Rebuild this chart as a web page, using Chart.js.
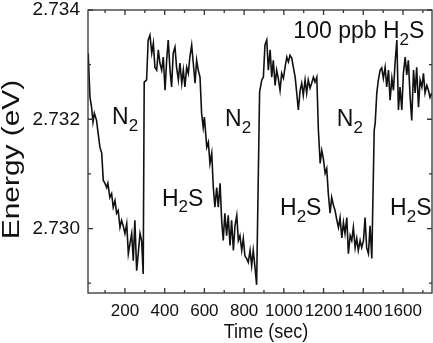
<!DOCTYPE html>
<html>
<head>
<meta charset="utf-8">
<script src="https://cdn.jsdelivr.net/npm/chart.js@4.4.0/dist/chart.umd.min.js"></script>
<style>
  html, body { margin: 0; padding: 0; background: #fff; }
  #chart { display: block; }
</style>
</head>
<body>
<canvas id="chart" width="433" height="343"></canvas>
<script>
// Sensor response to alternating N2 / 100 ppb H2S exposure
const times = [
  15, 24, 32, 39, 46, 57, 65, 74, 83, 91, 99, 108, 114, 124, 133, 141, 150, 158, 166, 175,
  183, 191, 200, 209, 217, 225, 234, 242, 250, 259, 267, 276, 284, 292, 297, 309, 317, 326, 335, 343,
  351, 360, 368, 376, 385, 393, 402, 410, 418, 427, 435, 443, 452, 460, 469, 477, 486, 494, 502, 511,
  519, 527, 536, 544, 553, 561, 569, 578, 586, 594, 600, 612, 620, 628, 637, 645, 653, 662, 670, 679,
  687, 695, 703, 712, 720, 729, 737, 746, 754, 763, 771, 779, 788, 796, 804, 813, 821, 830, 838, 846,
  855, 863, 878, 889, 897, 905, 914, 922, 931, 939, 947, 956, 964, 972, 981, 989, 998, 1006, 1015, 1023,
  1031, 1040, 1048, 1057, 1065, 1073, 1082, 1090, 1098, 1107, 1115, 1123, 1132, 1140, 1149, 1157, 1166, 1174, 1183, 1191,
  1199, 1208, 1216, 1224, 1233, 1241, 1250, 1258, 1267, 1275, 1283, 1292, 1300, 1308, 1317, 1325, 1334, 1342, 1350, 1359,
  1367, 1375, 1384, 1392, 1401, 1409, 1417, 1426, 1434, 1443, 1455, 1460, 1468, 1476, 1485, 1493, 1501, 1510, 1518, 1527,
  1535, 1544, 1552, 1560, 1569, 1577, 1585, 1594, 1602, 1611, 1619, 1627, 1636, 1644, 1653, 1661, 1669, 1678, 1686, 1695,
  1703, 1711, 1720, 1728, 1736, 1745
];
const energy = [
  2.73321, 2.73240, 2.73222, 2.73195, 2.73211, 2.73198, 2.73174, 2.73149, 2.73138, 2.73088,
  2.73083, 2.73075, 2.73083, 2.73057, 2.73064, 2.73039, 2.73051, 2.73028, 2.73033, 2.73002,
  2.73015, 2.73005, 2.72991, 2.73009, 2.72954, 2.72972, 2.72991, 2.72941, 2.73015, 2.72923,
  2.72954, 2.72991, 2.72978, 2.72917, 2.73268, 2.73272, 2.73345, 2.73354, 2.73321, 2.73339,
  2.73295, 2.73290, 2.73327, 2.73303, 2.73290, 2.73314, 2.73253, 2.73308, 2.73345, 2.73290,
  2.73259, 2.73321, 2.73332, 2.73295, 2.73272, 2.73303, 2.73266, 2.73290, 2.73259, 2.73295,
  2.73284, 2.73314, 2.73336, 2.73303, 2.73266, 2.73308, 2.73290, 2.73277, 2.73211, 2.73185,
  2.73204, 2.73149, 2.73158, 2.73119, 2.73138, 2.73075, 2.73039, 2.73075, 2.73039, 2.73083,
  2.73015, 2.72978, 2.73028, 2.72987, 2.73024, 2.72969, 2.73015, 2.72960, 2.73005, 2.73024,
  2.72978, 2.72987, 2.72960, 2.72982, 2.72950, 2.72945, 2.72938, 2.72960, 2.72932, 2.72960,
  2.72928, 2.72897, 2.73250, 2.73272, 2.73277, 2.73336, 2.73345, 2.73290, 2.73327, 2.73277,
  2.73308, 2.73262, 2.73290, 2.73275, 2.73253, 2.73284, 2.73275, 2.73295, 2.73314, 2.73305,
  2.73317, 2.73312, 2.73295, 2.73277, 2.73248, 2.73217, 2.73253, 2.73266, 2.73244, 2.73272,
  2.73248, 2.73272, 2.73257, 2.73266, 2.73277, 2.73268, 2.73277, 2.73180, 2.73119, 2.73143,
  2.73128, 2.73101, 2.73110, 2.73064, 2.73028, 2.73057, 2.73042, 2.73033, 2.73015, 2.73002,
  2.73020, 2.72983, 2.73011, 2.72991, 2.73020, 2.72954, 2.72987, 2.72978, 2.73002, 2.72965,
  2.72982, 2.72960, 2.72978, 2.72965, 2.72978, 2.73020, 2.72965, 2.72954, 2.73005, 2.72945,
  2.73180, 2.73193, 2.73248, 2.73272, 2.73290, 2.73294, 2.73275, 2.73295, 2.73259, 2.73290,
  2.73235, 2.73275, 2.73253, 2.73303, 2.73345, 2.73217, 2.73259, 2.73217, 2.73284, 2.73314,
  2.73281, 2.73308, 2.73240, 2.73198, 2.73290, 2.73248, 2.73295, 2.73222, 2.73272, 2.73259,
  2.73284, 2.73248, 2.73262, 2.73253, 2.73240, 2.73248
];

const xMajor = [200, 400, 600, 800, 1000, 1200, 1400, 1600];
const xMinor = [100, 300, 500, 700, 900, 1100, 1300, 1500, 1700];
const yMajor = [2.730, 2.732, 2.734];
const yMinor = [2.729, 2.731, 2.733];

const xTitle = 'Time (sec)';
const yTitle = 'Energy (eV)';

// gas labels: "_" puts the next character in subscript
const gasLabels = [
  { text: 'N_2', t: 135, e: 2.73191 },
  { text: 'N_2', t: 704, e: 2.73187 },
  { text: 'N_2', t: 1267, e: 2.73187 },
  { text: 'H_2S', t: 386, e: 2.73042 },
  { text: 'H_2S', t: 981, e: 2.73024 },
  { text: 'H_2S', t: 1535, e: 2.73024 },
  { text: '100 ppb H_2S', t: 1048, e: 2.73348 }
];

const FONT = '"Liberation Sans", Arial, sans-serif';

function drawFormula(ctx, str, x, y, size) {
  const subSize = Math.round(size * 0.75);
  let cx = x;
  for (let i = 0; i < str.length; i++) {
    let ch = str[i], sub = false;
    if (ch === '_') { sub = true; ch = str[++i]; }
    ctx.font = (sub ? subSize : size) + 'px ' + FONT;
    ctx.fillText(ch, cx, sub ? y + size * 0.28 : y);
    cx += ctx.measureText(ch).width;
  }
}

const frameAndLabels = {
  id: 'frameAndLabels',
  afterDraw(chart) {
    const { ctx, chartArea: a, scales: { x, y } } = chart;
    ctx.save();
    ctx.strokeStyle = '#333';
    ctx.lineWidth = 1.3;
    ctx.strokeRect(a.left, a.top, a.right - a.left, a.bottom - a.top);
    ctx.beginPath();
    x.ticks.forEach(tk => {
      const px = x.getPixelForValue(tk.value);
      const len = xMajor.includes(tk.value) ? 5 : 3;
      ctx.moveTo(px, a.bottom); ctx.lineTo(px, a.bottom - len);
      ctx.moveTo(px, a.top); ctx.lineTo(px, a.top + len);
    });
    y.ticks.forEach(tk => {
      const py = y.getPixelForValue(tk.value);
      const len = yMajor.includes(tk.value) ? 5 : 3;
      ctx.moveTo(a.left, py); ctx.lineTo(a.left + len, py);
      ctx.moveTo(a.right, py); ctx.lineTo(a.right - len, py);
    });
    ctx.stroke();

    ctx.fillStyle = '#111';
    ctx.textBaseline = 'alphabetic';
    ctx.textAlign = 'left';
    gasLabels.forEach(l => {
      drawFormula(ctx, l.text, x.getPixelForValue(l.t), y.getPixelForValue(l.e), 23);
    });

    // axis titles, set in a slightly stretched face
    ctx.textAlign = 'center';
    ctx.save();
    ctx.translate((a.left + a.right) / 2 + 6, a.bottom + 45);
    ctx.scale(0.88, 1);
    ctx.font = '20.5px ' + FONT;
    ctx.fillText(xTitle, 0, 0);
    ctx.restore();
    ctx.save();
    ctx.translate(18.5, (a.top + a.bottom) / 2 + 8);
    ctx.rotate(-Math.PI / 2);
    ctx.scale(1.3, 1);
    ctx.font = '23px ' + FONT;
    ctx.fillText(yTitle, 0, 0);
    ctx.restore();
    ctx.restore();
  }
};

new Chart(document.getElementById('chart'), {
  type: 'line',
  data: {
    datasets: [{
      data: times.map((t, i) => ({ x: t, y: energy[i] })),
      borderColor: '#111',
      borderWidth: 1.6,
      pointRadius: 0,
      tension: 0,
      fill: false
    }]
  },
  options: {
    responsive: false,
    animation: false,
    devicePixelRatio: 1,
    layout: { padding: { top: 10, right: 1, left: 0, bottom: 0 } },
    plugins: { legend: { display: false }, tooltip: { enabled: false } },
    scales: {
      x: {
        type: 'linear',
        min: 14,
        max: 1746,
        afterBuildTicks: s => { s.ticks = [...xMajor, ...xMinor].sort((a, b) => a - b).map(v => ({ value: v })); },
        afterFit: s => { s.height = 50; s.paddingLeft = 0; s.paddingRight = 0; },
        grid: { display: false, drawTicks: false },
        border: { display: false },
        ticks: {
          autoSkip: false,
          maxRotation: 0,
          padding: 8,
          color: '#111',
          font: { family: FONT, size: 17 },
          callback: v => xMajor.includes(v) ? String(v) : ''
        }
      },
      y: {
        min: 2.72882,
        max: 2.734,
        afterBuildTicks: s => { s.ticks = [...yMinor, ...yMajor].sort((a, b) => a - b).map(v => ({ value: v })); },
        afterFit: s => { s.width = 88; s.paddingTop = 0; s.paddingBottom = 0; },
        grid: { display: false, drawTicks: false },
        border: { display: false },
        ticks: {
          autoSkip: false,
          padding: 8,
          color: '#111',
          font: { family: FONT, size: 19 },
          callback: v => yMajor.includes(v) ? v.toFixed(3) : ''
        }
      }
    }
  },
  plugins: [frameAndLabels]
});
</script>
</body>
</html>
